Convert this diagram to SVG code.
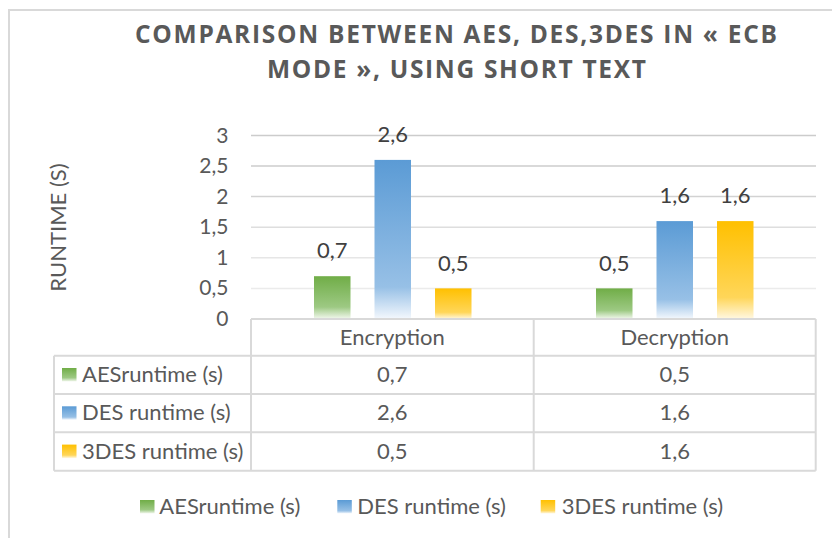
<svg xmlns="http://www.w3.org/2000/svg" width="832" height="538" viewBox="0 0 832 538">
  <style>
    text { font-family: Lato, "Open Sans", "Liberation Sans", sans-serif; }
    .title { font-family: "Open Sans", Lato, "Liberation Sans", sans-serif; font-size: 24.5px; font-weight: bold; fill: #595959; text-anchor: middle; }
    .axis { font-size: 21px; fill: #595959; text-anchor: end; }
    .axis-title { font-size: 22px; fill: #595959; text-anchor: middle; }
    .dlabel { font-size: 22px; fill: #404040; text-anchor: middle; }
    .cell { font-size: 22px; fill: #595959; text-anchor: middle; }
    .rowhead { font-size: 22px; fill: #595959; }
    .legend { font-size: 22px; fill: #595959; }
    .grid { stroke-width: 1.5; fill: none; }
    .tbl { stroke: #d9d9d9; stroke-width: 2; fill: none; }
  </style>
  <defs>
    <linearGradient id="gAES" x1="0" y1="0" x2="0" y2="1">
      <stop offset="0" stop-color="#70ad47"/>
      <stop offset="0.72" stop-color="#9dc983"/>
      <stop offset="1" stop-color="#f3f8ef"/>
    </linearGradient>
    <linearGradient id="gDES" x1="0" y1="0" x2="0" y2="1">
      <stop offset="0" stop-color="#5b9bd5"/>
      <stop offset="0.8" stop-color="#97c0e6"/>
      <stop offset="1" stop-color="#f4f8fd"/>
    </linearGradient>
    <linearGradient id="g3DES" x1="0" y1="0" x2="0" y2="1">
      <stop offset="0" stop-color="#ffc000"/>
      <stop offset="0.78" stop-color="#ffd659"/>
      <stop offset="1" stop-color="#fff8e3"/>
    </linearGradient>
  </defs>

  <rect width="832" height="538" fill="#ffffff"/>
  <!-- chart area frame -->
  <rect x="9" y="10" width="840" height="540" fill="none" stroke="#d9d9d9" stroke-width="2"/>

  <g id="title">
    <text class="title" x="456" y="42.5" textLength="642" lengthAdjust="spacing">COMPARISON BETWEEN AES, DES,3DES IN « ECB</text>
    <text class="title" x="456.5" y="78" textLength="379" lengthAdjust="spacing">MODE », USING SHORT TEXT</text>
  </g>

  <g id="gridlines">
    <line class="grid" x1="251" y1="135.4" x2="816" y2="135.4" stroke="#cccccc"/>
    <line class="grid" x1="251" y1="166" x2="816" y2="166" stroke="#cdcdcd"/>
    <line class="grid" x1="251" y1="196.6" x2="816" y2="196.6" stroke="#d2d2d2"/>
    <line class="grid" x1="251" y1="227.2" x2="816" y2="227.2" stroke="#dedede"/>
    <line class="grid" x1="251" y1="257.8" x2="816" y2="257.8" stroke="#e6e6e6"/>
    <line class="grid" x1="251" y1="288.4" x2="816" y2="288.4" stroke="#ebebeb"/>
  </g>

  <g id="y-axis">
    <text class="axis" x="228.5" y="142.5">3</text>
    <text class="axis" x="228.5" y="173">2,5</text>
    <text class="axis" x="228.5" y="203.6">2</text>
    <text class="axis" x="228.5" y="234.2">1,5</text>
    <text class="axis" x="228.5" y="264.8">1</text>
    <text class="axis" x="228.5" y="295.4">0,5</text>
    <text class="axis" x="228.5" y="326.3">0</text>
    <text class="axis-title" transform="translate(65.5 227.5) rotate(-90)">RUNTIME (S)</text>
  </g>

  <g id="series-aes">
    <rect x="314" y="276.2" width="36.5" height="42.8" fill="url(#gAES)"/>
    <rect x="596" y="288.4" width="36.5" height="30.6" fill="url(#gAES)"/>
    <text class="dlabel" x="332.2" y="258">0,7</text>
    <text class="dlabel" x="614.2" y="270.5">0,5</text>
  </g>

  <g id="series-des">
    <rect x="374.5" y="159.9" width="36.5" height="159.1" fill="url(#gDES)"/>
    <rect x="656.5" y="221.1" width="36.5" height="97.9" fill="url(#gDES)"/>
    <text class="dlabel" x="392.7" y="142">2,6</text>
    <text class="dlabel" x="674.7" y="203.2">1,6</text>
  </g>

  <g id="series-3des">
    <rect x="435" y="288.4" width="36.5" height="30.6" fill="url(#g3DES)"/>
    <rect x="717" y="221.1" width="36.5" height="97.9" fill="url(#g3DES)"/>
    <text class="dlabel" x="453.2" y="270.5">0,5</text>
    <text class="dlabel" x="735.2" y="203.2">1,6</text>
  </g>

  <g id="data-table">
    <path class="tbl" d="M251 319 H815.7 M54 355.7 H815.7 M54 394 H815.7 M54 432.3 H815.7 M54 470.7 H815.7 M54 355.7 V470.7 M251 319 V470.7 M533.7 319 V470.7 M815.7 319 V470.7"/>
    <text class="cell" x="392.3" y="345">Encryption</text>
    <text class="cell" x="674.7" y="345">Decryption</text>

    <rect x="62" y="368" width="14.5" height="13.5" fill="url(#gAES)"/>
    <text class="rowhead" x="82" y="382">AESruntime (s)</text>
    <text class="cell" x="392.3" y="382">0,7</text>
    <text class="cell" x="674.7" y="382">0,5</text>

    <rect x="62" y="406.3" width="14.5" height="13.5" fill="url(#gDES)"/>
    <text class="rowhead" x="82" y="420.3">DES runtime (s)</text>
    <text class="cell" x="392.3" y="420.3">2,6</text>
    <text class="cell" x="674.7" y="420.3">1,6</text>

    <rect x="62" y="444.6" width="14.5" height="13.5" fill="url(#g3DES)"/>
    <text class="rowhead" x="82" y="458.6">3DES runtime (s)</text>
    <text class="cell" x="392.3" y="458.6">0,5</text>
    <text class="cell" x="674.7" y="458.6">1,6</text>
  </g>

  <g id="legend">
    <rect x="140" y="500" width="14.5" height="13.5" fill="url(#gAES)"/>
    <text class="legend" x="159.3" y="514">AESruntime (s)</text>
    <rect x="337.3" y="500" width="14.5" height="13.5" fill="url(#gDES)"/>
    <text class="legend" x="357.3" y="514">DES runtime (s)</text>
    <rect x="540.7" y="500" width="14.5" height="13.5" fill="url(#g3DES)"/>
    <text class="legend" x="561.7" y="514">3DES runtime (s)</text>
  </g>
</svg>
